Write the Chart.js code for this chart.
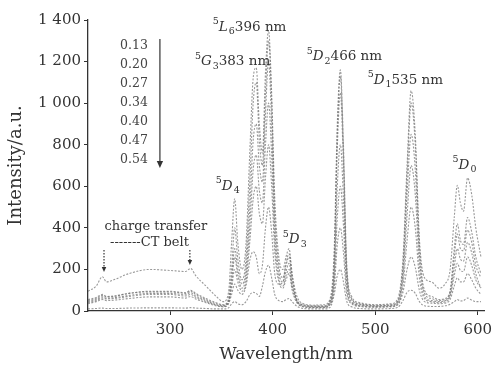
<!DOCTYPE html>
<html>
<head>
<meta charset="utf-8">
<script src="https://cdn.jsdelivr.net/npm/chart.js@4"></script>
<style>
  html, body { margin: 0; padding: 0; background: #fff; }
  canvas { display: block; }
</style>
</head>
<body>
<canvas id="spectrumChart" width="492" height="370"></canvas>
<script>
// wavelength grid (nm) and intensities
const wavelengths = [220, 228, 234, 238, 245, 260, 280, 300, 315, 320, 325, 335, 345, 352, 357,
  360, 363, 366, 370, 374, 378, 381, 384, 387, 390, 393, 396, 399, 402, 406,
  410, 413, 416, 419, 423, 430, 440, 450, 456, 460, 463, 466, 469, 472, 477,
  485, 500, 515, 522, 527, 531, 535, 539, 543, 548, 555, 562, 568, 573, 577,
  580, 583, 586, 590, 594, 598, 603];

const concentrations = ["0.13", "0.20", "0.27", "0.34", "0.40", "0.47", "0.54"];

const s013 = [95, 120, 165, 140, 150, 180, 200, 195, 190, 205, 170, 120, 70, 45, 90,
  330, 540, 330, 200, 320, 800, 1120, 1170, 900, 760, 1150, 1350, 1050, 550, 260,
  200, 260, 300, 180, 80, 35, 28, 30, 60, 300, 900, 1160, 800, 250, 70,
  40, 30, 35, 60, 250, 700, 1060, 850, 350, 160, 140, 110, 130, 200, 450,
  605, 520, 480, 640, 560, 400, 260];
const s020 = [55, 65, 80, 70, 72, 85, 95, 95, 88, 100, 85, 60, 40, 30, 60,
  200, 400, 250, 150, 250, 650, 1000, 1100, 820, 700, 1050, 1300, 1000, 480, 220,
  160, 220, 260, 150, 60, 30, 25, 25, 50, 250, 850, 1130, 760, 220, 60,
  35, 28, 30, 50, 220, 650, 1000, 800, 320, 100, 70, 55, 60, 100, 300,
  420, 340, 320, 450, 380, 260, 180];
const s027 = [50, 60, 75, 68, 70, 85, 92, 92, 85, 95, 80, 55, 35, 28, 50,
  160, 300, 200, 130, 200, 520, 820, 900, 700, 620, 950, 1200, 900, 420, 190,
  140, 190, 230, 130, 55, 28, 22, 22, 45, 220, 780, 1050, 700, 200, 55,
  32, 25, 28, 45, 190, 560, 850, 680, 270, 85, 60, 50, 55, 90, 260,
  370, 300, 290, 390, 330, 220, 160];
const s034 = [45, 55, 68, 62, 64, 75, 85, 85, 78, 88, 72, 50, 30, 25, 45,
  130, 260, 170, 110, 170, 430, 680, 750, 580, 520, 800, 1000, 750, 350, 160,
  120, 170, 200, 115, 50, 25, 20, 20, 40, 180, 600, 800, 540, 160, 45,
  28, 22, 25, 40, 160, 460, 700, 560, 220, 70, 50, 45, 50, 80, 210,
  300, 250, 240, 330, 280, 180, 110];
const s040 = [40, 50, 62, 58, 60, 70, 80, 80, 72, 80, 66, 45, 28, 22, 40,
  110, 200, 140, 95, 140, 350, 540, 600, 470, 420, 640, 800, 600, 290, 140,
  110, 150, 180, 100, 45, 22, 18, 18, 35, 140, 450, 600, 410, 120, 40,
  25, 20, 22, 35, 120, 340, 500, 400, 160, 60, 45, 40, 45, 70, 170,
  230, 195, 190, 260, 220, 150, 110];
const s047 = [35, 45, 55, 50, 52, 60, 68, 68, 62, 70, 58, 40, 25, 20, 35,
  80, 130, 100, 80, 120, 250, 285, 260, 180, 220, 400, 500, 380, 180, 130,
  140, 230, 275, 170, 60, 20, 16, 16, 30, 110, 320, 400, 280, 90, 35,
  22, 18, 20, 30, 90, 200, 260, 210, 100, 45, 38, 35, 38, 55, 120,
  160, 140, 140, 180, 150, 110, 80];
const s054 = [10, 12, 14, 12, 12, 14, 15, 15, 14, 16, 14, 12, 10, 10, 15,
  35, 45, 35, 30, 45, 80, 90, 85, 70, 120, 190, 220, 160, 80, 50,
  45, 55, 60, 45, 25, 12, 10, 10, 18, 80, 170, 200, 140, 50, 20,
  12, 10, 12, 18, 50, 90, 100, 85, 45, 25, 22, 22, 25, 32, 45,
  55, 48, 50, 62, 52, 45, 45];

const series = [s013, s020, s027, s034, s040, s047, s054];

const xTicks = [300, 400, 500, 600];
const yTicks = [0, 200, 400, 600, 800, 1000, 1200, 1400];

const serif = '"DejaVu Serif", serif';
const ink = '#333';

// peak labels: [wavelength, intensity] anchor of the text's left/middle, then text pieces
const peakLabels = [
  { at: [341.7, 1366], parts: [["5", "sup"], ["L", "it"], ["6", "sub"], ["396 nm", ""]] },
  { at: [324.2, 1198], parts: [["5", "sup"], ["G", "it"], ["3", "sub"], ["383 nm", ""]] },
  { at: [433.2, 1222], parts: [["5", "sup"], ["D", "it"], ["2", "sub"], ["466 nm", ""]] },
  { at: [492.6, 1111], parts: [["5", "sup"], ["D", "it"], ["1", "sub"], ["535 nm", ""]] },
  { at: [575.4, 702], parts: [["5", "sup"], ["D", "it"], ["0", "sub"]] },
  { at: [344.6, 601], parts: [["5", "sup"], ["D", "it"], ["4", "sub"]] },
  { at: [409.9, 342], parts: [["5", "sup"], ["D", "it"], ["3", "sub"]] }
];

function drawRich(ctx, x, y, parts, size) {
  let cx = x;
  for (const [t, kind] of parts) {
    let fs = size, dy = 0;
    if (kind === "sup") { fs = size * 0.7; dy = -size * 0.42; }
    if (kind === "sub") { fs = size * 0.7; dy = size * 0.35; }
    ctx.font = (kind === "it" ? "italic " : "") + fs + "px " + serif;
    ctx.fillText(t, cx, y + dy);
    cx += ctx.measureText(t).width + (kind === "it" ? 1 : 0);
  }
}

function arrow(ctx, x, y1, y2, dashed, head) {
  ctx.save();
  ctx.strokeStyle = ink;
  ctx.fillStyle = ink;
  ctx.lineWidth = 1.2;
  if (dashed) ctx.setLineDash([1.5, 1.5]);
  ctx.beginPath();
  ctx.moveTo(x, y1);
  ctx.lineTo(x, y2 - head);
  ctx.stroke();
  ctx.setLineDash([]);
  ctx.beginPath();
  ctx.moveTo(x, y2);
  ctx.lineTo(x - head * 0.45, y2 - head);
  ctx.lineTo(x + head * 0.45, y2 - head);
  ctx.closePath();
  ctx.fill();
  ctx.restore();
}

const annotations = {
  id: "annotations",
  afterDatasetsDraw(chart) {
    const { ctx, scales: { x, y } } = chart;
    ctx.save();
    ctx.fillStyle = ink;
    ctx.textBaseline = "middle";
    ctx.textAlign = "left";

    peakLabels.forEach(l => {
      drawRich(ctx, x.getPixelForValue(l.at[0]), y.getPixelForValue(l.at[1]), l.parts, 13.5);
    });

    // concentration list with arrow
    ctx.font = "12.5px " + serif;
    ctx.fillStyle = "#444";
    concentrations.forEach((c, i) => {
      ctx.fillText(c, x.getPixelForValue(251.2), y.getPixelForValue(1275 - i * 91.4));
    });
    arrow(ctx, x.getPixelForValue(290.1), y.getPixelForValue(1309), y.getPixelForValue(688), false, 7);

    // charge transfer band note
    ctx.fillStyle = ink;
    ctx.textAlign = "center";
    ctx.font = "13px " + serif;
    ctx.fillText("charge transfer", x.getPixelForValue(286.2), y.getPixelForValue(404));
    ctx.fillText("-------CT belt", x.getPixelForValue(279.9), y.getPixelForValue(327));
    arrow(ctx, x.getPixelForValue(235.6), y.getPixelForValue(293), y.getPixelForValue(188), true, 5);
    arrow(ctx, x.getPixelForValue(319.3), y.getPixelForValue(293), y.getPixelForValue(221), true, 5);
    ctx.restore();
  }
};

function fmtY(v) {
  if (v >= 1000) return Math.floor(v / 1000) + " " + String(v % 1000).padStart(3, "0");
  return String(v);
}

new Chart(document.getElementById("spectrumChart"), {
  type: "line",
  data: {
    datasets: concentrations.map((c, i) => ({
      label: c,
      data: wavelengths.map((w, j) => ({ x: w, y: series[i][j] })),
      borderColor: "rgba(110,110,110,0.7)",
      borderWidth: 1.1,
      borderDash: [2, 1.5],
      pointRadius: 0,
      cubicInterpolationMode: "monotone",
      fill: false
    }))
  },
  options: {
    responsive: false,
    animation: false,
    devicePixelRatio: 1,
    layout: { padding: { top: 20, right: 8, bottom: 3, left: 0 } },
    plugins: {
      legend: { display: false },
      tooltip: { enabled: false }
    },
    scales: {
      x: {
        type: "linear",
        min: 220,
        max: 606,
        afterBuildTicks: s => { s.ticks = xTicks.map(v => ({ value: v })); },
        afterFit: s => { s.height = 56; s.paddingRight = 0; s.paddingLeft = 0; },
        grid: { drawOnChartArea: false, drawTicks: true, tickLength: 4, color: ink },
        border: { color: ink, width: 1.3 },
        ticks: { font: { family: serif, size: 15 }, color: ink, padding: 6, maxRotation: 0 },
        title: {
          display: true,
          text: "Wavelength/nm",
          font: { family: serif, size: 17 },
          color: ink,
          padding: { top: 2, bottom: 2 }
        }
      },
      y: {
        min: 0,
        max: 1400,
        afterBuildTicks: s => { s.ticks = yTicks.map(v => ({ value: v })); },
        afterFit: s => { s.width = 88; },
        grid: { drawOnChartArea: false, drawTicks: true, tickLength: 4, color: ink },
        border: { color: ink, width: 1.3 },
        ticks: { font: { family: serif, size: 15 }, color: ink, padding: 3, callback: v => fmtY(v) },
        title: {
          display: true,
          text: "Intensity/a.u.",
          font: { family: serif, size: 18 },
          color: ink,
          padding: { top: 6, bottom: 0 }
        }
      }
    }
  },
  plugins: [annotations]
});
</script>
</body>
</html>
